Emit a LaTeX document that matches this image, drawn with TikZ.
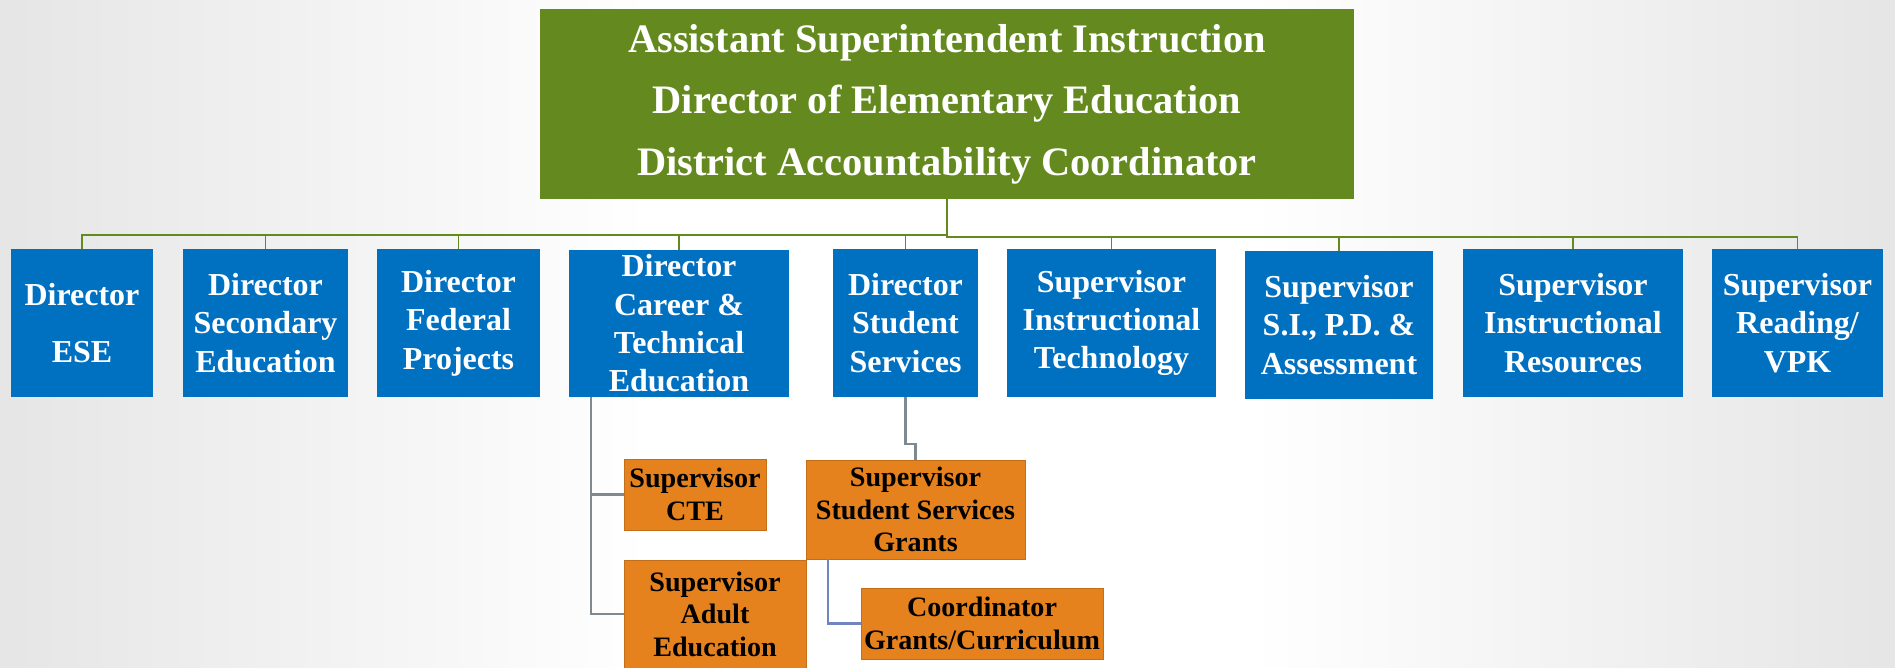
\documentclass[tikz,border=0pt]{standalone}
\usepackage{fontspec}
\setmainfont{Liberation Serif}
\usetikzlibrary{positioning}

\definecolor{headgreen}{HTML}{648A1F}
\definecolor{deptblue}{HTML}{0070C0}
\definecolor{suborange}{HTML}{E6821E}
\definecolor{linkgray}{HTML}{7F8A90}
\definecolor{linkblue}{HTML}{7085C0}

\begin{document}
\begin{tikzpicture}[
    x=0.2mm, y=-0.2mm,
    head/.style={rectangle, fill=headgreen, inner sep=0pt, align=center, text=white, font=\fontsize{23}{35}\selectfont\bfseries},
    dept/.style={rectangle, fill=deptblue, inner sep=0pt, minimum height=29.6mm, align=center, text=white, font=\fontsize{18.2}{21.8}\selectfont\bfseries},
    sub/.style={rectangle, fill=suborange, draw=suborange!85!black, line width=0.4pt, inner sep=0pt, align=center, text=black, font=\fontsize{16}{18.5}\selectfont\bfseries},
    link/.style={draw=headgreen, line width=1.1pt},
    sublink/.style={draw=linkgray, line width=1.3pt},
    coordlink/.style={draw=linkblue, line width=1.3pt}
]

% Background
\useasboundingbox (0,0) rectangle (1895,668);
\fill[white] (0,0) rectangle (1895,668);
\shade[left color=black!10, right color=white] (0,0) rectangle (650,668);
\shade[left color=white, right color=black!10] (1250,0) rectangle (1895,668);

% Nodes
\node[head, minimum width=162.8mm, minimum height=38mm] (top) at (947,104) {Assistant Superintendent Instruction\\Director of Elementary Education\\District Accountability Coordinator};

\node[dept, minimum width=28.4mm] (ese) at (82,323) {Director\\[11pt]ESE};
\node[dept, minimum width=33mm] (secondary) at (265.5,323) {Director\\Secondary\\Education};
\node[dept, minimum width=32.6mm] (federal) at (458.5,323) {Director\\Federal\\Projects};
\node[dept, minimum width=44mm, minimum height=29.4mm] (cte) at (679,323.5) {Director\\Career \&\\Technical\\Education};
\node[dept, minimum width=29mm] (studserv) at (905.5,323) {Director\\Student\\Services};
\node[dept, minimum width=41.8mm] (insttech) at (1111.5,323) {Supervisor\\Instructional\\Technology};
\node[dept, minimum width=37.6mm] (sipd) at (1339,325) {Supervisor\\S.I., P.D. \&\\Assessment};
\node[dept, minimum width=44mm] (instres) at (1573,323) {Supervisor\\Instructional\\Resources};
\node[dept, minimum width=34.2mm] (vpk) at (1797.5,323) {Supervisor\\Reading/\\VPK};

\node[sub, minimum width=28.4mm, minimum height=14.2mm] (supcte) at (695,494.5) {Supervisor\\CTE};
\node[sub, minimum width=36.4mm, minimum height=21.6mm] (adulted) at (715,614) {Supervisor\\Adult\\Education};
\node[sub, minimum width=43.8mm, minimum height=19.8mm] (ssgrants) at (915.5,509.5) {Supervisor\\Student Services\\Grants};
\node[sub, minimum width=48.4mm, minimum height=14.2mm] (coordgrants) at (982,623.5) {Coordinator\\Grants/Curriculum};

% Connections
\foreach \dep in {ese, secondary, federal, cte, studserv}
    \draw[link] (top.south) -- ++(0,36) -| (\dep.north);
\foreach \dep in {insttech, sipd, instres, vpk}
    \draw[link] (top.south) -- ++(0,38) -| (\dep.north);

\draw[sublink] ([xshift=4.4mm]cte.south west) |- (supcte.west);
\draw[sublink] ([xshift=4.4mm]cte.south west) |- (adulted.west);
\draw[sublink] (studserv.south) -- ++(0,47) -| (ssgrants.north);
\draw[coordlink] ([xshift=4.4mm]ssgrants.south west) |- (coordgrants.west);

\end{tikzpicture}
\end{document}
